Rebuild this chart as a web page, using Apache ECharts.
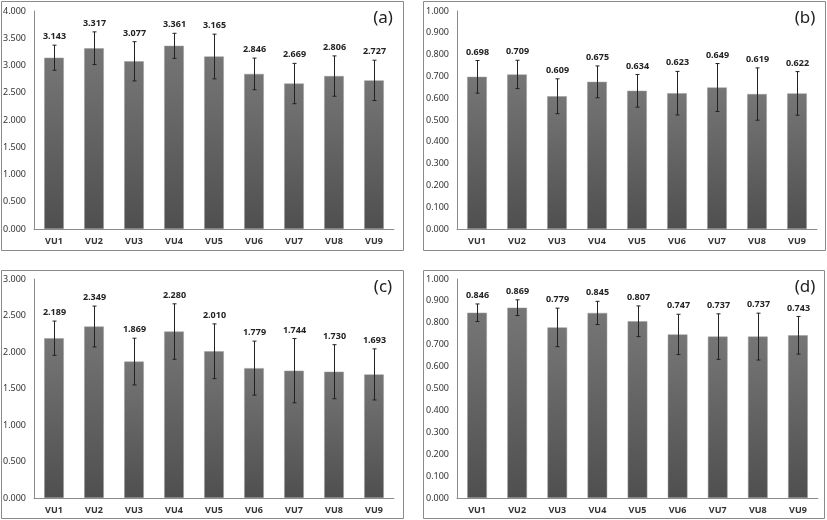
<!DOCTYPE html>
<html>
<head>
<meta charset="utf-8">
<script src="https://cdn.jsdelivr.net/npm/echarts@6/dist/echarts.min.js"></script>
<style>html,body{margin:0;padding:0;background:#fff}#c{width:827px;height:520px}</style>
</head>
<body>
<div id="c"></div>
<script>
const categories = ['VU1','VU2','VU3','VU4','VU5','VU6','VU7','VU8','VU9'];
const valuesA = [3.143,3.317,3.077,3.361,3.165,2.846,2.669,2.806,2.727];
const errorsA = [0.23,0.30,0.36,0.23,0.41,0.29,0.37,0.37,0.37];
const valuesB = [0.698,0.709,0.609,0.675,0.634,0.623,0.649,0.619,0.622];
const errorsB = [0.075,0.065,0.08,0.073,0.075,0.10,0.11,0.12,0.10];
const valuesC = [2.189,2.349,1.869,2.280,2.010,1.779,1.744,1.730,1.693];
const errorsC = [0.235,0.28,0.32,0.38,0.375,0.37,0.44,0.37,0.35];
const valuesD = [0.846,0.869,0.779,0.845,0.807,0.747,0.737,0.737,0.743];
const errorsD = [0.04,0.036,0.088,0.053,0.07,0.092,0.104,0.107,0.086];
const panelLetters = ['(a)','(b)','(c)','(d)'];
const yMaxes = [4, 1, 3, 1];
const yIntervals = [0.5, 0.1, 0.5, 0.1];

const panels = [
  {values: valuesA, errors: errorsA},
  {values: valuesB, errors: errorsB},
  {values: valuesC, errors: errorsC},
  {values: valuesD, errors: errorsD}
];
const gridPos = [
  {left: 33, top: 11, width: 361, height: 218},
  {left: 457, top: 11, width: 360, height: 218},
  {left: 33, top: 279, width: 361, height: 219},
  {left: 457, top: 279, width: 361, height: 219}
];
const boxes = [
  {x: 1.5, y: 1.5, width: 402, height: 249},
  {x: 423.5, y: 1.5, width: 402, height: 249},
  {x: 1.5, y: 270.5, width: 402, height: 248},
  {x: 423.5, y: 270.5, width: 401, height: 248}
];
const letterPos = [[383, 18], [805, 18], [383, 287], [805, 287]];

const font = 'Noto Sans';
const barGrad = {type: 'linear', x: 0, y: 0, x2: 0, y2: 1,
  colorStops: [{offset: 0, color: '#767676'}, {offset: 1, color: '#4f4f4f'}]};

const grid = [], xAxis = [], yAxis = [], series = [], graphic = [];
panels.forEach((p, k) => {
  grid.push(Object.assign({containLabel: false}, gridPos[k]));
  xAxis.push({
    type: 'category', gridIndex: k, data: categories,
    axisLine: {lineStyle: {color: '#8c8c8c', width: 1}},
    axisTick: {show: false},
    axisLabel: {fontFamily: font, fontSize: 9, fontWeight: 'bold', color: '#333', margin: 8}
  });
  yAxis.push({
    type: 'value', gridIndex: k, min: 0, max: yMaxes[k], interval: yIntervals[k],
    axisLine: {show: true, lineStyle: {color: '#8c8c8c', width: 1}},
    axisTick: {show: false},
    splitLine: {show: false},
    axisLabel: {fontFamily: font, fontSize: 9, color: '#333', margin: 8,
      formatter: v => v.toFixed(3)}
  });
  series.push({
    type: 'bar', xAxisIndex: k, yAxisIndex: k, data: p.values,
    barWidth: '49%',
    itemStyle: {color: barGrad, borderColor: '#9a9a9a', borderWidth: 0.5},
    silent: true
  });
  series.push({
    type: 'custom', xAxisIndex: k, yAxisIndex: k,
    data: p.values.map((v, i) => [i, v - p.errors[i], v + p.errors[i], v]),
    renderItem: function (params, api) {
      const i = api.value(0);
      const lo = api.coord([i, api.value(1)]);
      const hi = api.coord([i, api.value(2)]);
      const x = Math.round(hi[0]) + 0.5;
      const style = {stroke: '#222', lineWidth: 1};
      return {
        type: 'group',
        children: [
          {type: 'line', shape: {x1: x, y1: hi[1], x2: x, y2: lo[1]}, style: style},
          {type: 'line', shape: {x1: x - 2, y1: hi[1], x2: x + 2, y2: hi[1]}, style: style},
          {type: 'line', shape: {x1: x - 2, y1: lo[1], x2: x + 2, y2: lo[1]}, style: style},
          {type: 'text', x: x, y: hi[1] - 4, style: {
            text: api.value(3).toFixed(3), fill: '#222', fontFamily: font,
            fontSize: 9, fontWeight: 'bold', textAlign: 'center', textVerticalAlign: 'bottom'}}
        ]
      };
    },
    z: 5, silent: true
  });
  graphic.push({type: 'rect', shape: boxes[k], style: {fill: 'none', stroke: '#8a8a8a', lineWidth: 1}, silent: true});
  graphic.push({type: 'text', x: letterPos[k][0], y: letterPos[k][1], style: {
    text: panelLetters[k], fill: '#222', fontFamily: font, fontSize: 17,
    textAlign: 'center', textVerticalAlign: 'middle'}, silent: true});
});

const chart = echarts.init(document.getElementById('c'), null, {renderer: 'canvas'});
chart.setOption({animation: false, backgroundColor: '#fff', grid, xAxis, yAxis, series, graphic});
</script>
</body>
</html>
